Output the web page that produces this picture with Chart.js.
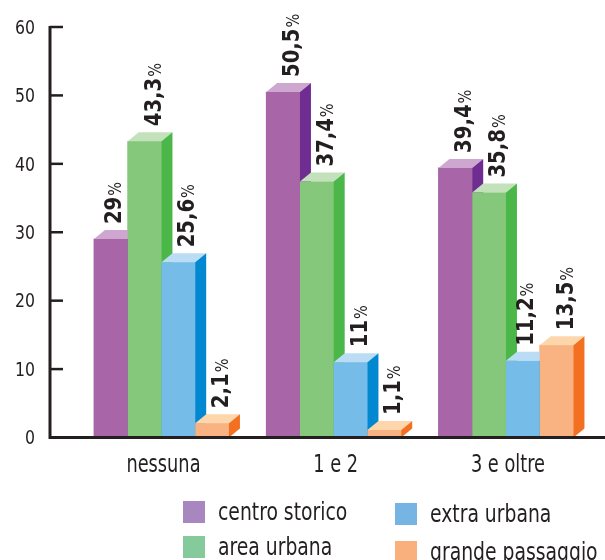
<!DOCTYPE html>
<html lang="it">
<head>
<meta charset="utf-8">
<title>Grafico</title>
<script src="https://cdn.jsdelivr.net/npm/chart.js@4/dist/chart.umd.min.js"></script>
<style>
  html, body { margin: 0; padding: 0; background: #fff; }
  canvas { display: block; }
</style>
</head>
<body>
<canvas id="grafico" width="605" height="560"></canvas>
<script>
// === DATI ===
const categorie = ['nessuna', '1 e 2', '3 e oltre'];
const serie = ['centro storico', 'area urbana', 'extra urbana', 'grande passaggio'];
const centroStorico = [29, 50.5, 39.4];
const areaUrbana = [43.3, 37.4, 35.8];
const extraUrbana = [25.6, 11, 11.2];
const grandePassaggio = [2.1, 1.1, 13.5];
const tickY = [0, 10, 20, 30, 40, 50, 60];

// === STILE ===
const FONT = "'Liberation Sans Narrow', 'DejaVu Sans Condensed', sans-serif";
const NERO = '#231f20';
const coloriFronte = ['#a866a8', '#85c87c', '#75bce8', '#f9b282'];
const coloriSopra = ['#cda7d0', '#c3e2bc', '#badcf4', '#fdd6ab'];
const coloriLato = ['#6f2c91', '#4bb748', '#0288d1', '#f37021'];
const coloriLegenda = ['#a887c0', '#84ca9b', '#76b4e4', '#f9b07d'];
const DX = 11, DY = 9; // profondita' del finto 3D

const valori = [centroStorico, areaUrbana, extraUrbana, grandePassaggio];

function poligono(ctx, punti, colore) {
  ctx.beginPath();
  ctx.moveTo(punti[0][0], punti[0][1]);
  punti.slice(1).forEach(p => ctx.lineTo(p[0], p[1]));
  ctx.closePath();
  ctx.fillStyle = colore;
  ctx.fill();
}

// testo "stretto": il font condensato disponibile e' piu' largo dell'originale
function scrivi(ctx, str, x, y, font, sx, align, baseline) {
  ctx.save();
  ctx.translate(x, y);
  ctx.scale(sx, 1);
  ctx.font = font;
  ctx.fillStyle = NERO;
  ctx.textAlign = align;
  ctx.textBaseline = baseline;
  ctx.fillText(str, 0, 0);
  ctx.restore();
}

// === PLUGIN: barre 3D, etichette ruotate, assi e legenda ===
const barre3d = {
  id: 'barre3d',
  afterDatasetsDraw(chart) {
    const ctx = chart.ctx;
    const area = chart.chartArea;
    const sy = chart.scales.y;
    const sx = chart.scales.x;
    ctx.save();

    // barre disegnate nell'ordine giusto (fronte, sopra, lato)
    categorie.forEach((c, j) => {
      valori.forEach((v, i) => {
        const el = chart.getDatasetMeta(i).data[j];
        const { x, y, base, width } = el.getProps(['x', 'y', 'base', 'width'], true);
        const l = x - width / 2, r = x + width / 2;
        ctx.fillStyle = coloriFronte[i];
        ctx.fillRect(l, y, width, base - y);
        poligono(ctx, [[l, y], [l + DX, y - DY], [r + DX, y - DY], [r, y]], coloriSopra[i]);
        poligono(ctx, [[r, y], [r + DX, y - DY], [r + DX, base - DY], [r, base]], coloriLato[i]);
      });
    });

    // etichette verticali con la percentuale
    categorie.forEach((c, j) => {
      valori.forEach((v, i) => {
        const el = chart.getDatasetMeta(i).data[j];
        const { x, y } = el.getProps(['x', 'y'], true);
        const prossimo = valori[i + 1] ? valori[i + 1][j] : -1;
        const sposta = prossimo > v[j] ? 10 : 16; // se la barra dopo e' piu' alta resta centrata
        const testo = String(v[j]).replace('.', ',');
        ctx.save();
        ctx.translate(x + sposta, y - DY - 6);
        ctx.rotate(-Math.PI / 2);
        ctx.scale(0.95, 1);
        ctx.fillStyle = NERO;
        ctx.textAlign = 'left';
        ctx.textBaseline = 'alphabetic';
        ctx.font = "bold 23px " + FONT;
        ctx.fillText(testo, 0, 0);
        const w = ctx.measureText(testo).width;
        ctx.font = "17px " + FONT;
        ctx.fillText('%', w + 1, 0);
        ctx.restore();
      });
    });

    // assi disegnati sopra le barre
    const y0 = sy.getPixelForValue(0);
    const yTop = sy.getPixelForValue(tickY[tickY.length - 1]);
    ctx.strokeStyle = NERO;
    ctx.lineWidth = 3;
    ctx.beginPath();
    ctx.moveTo(area.left - 1.5, y0);
    ctx.lineTo(area.right, y0);
    ctx.moveTo(area.left, yTop - 1);
    ctx.lineTo(area.left, y0);
    ctx.stroke();
    ctx.lineWidth = 2.5;
    tickY.forEach(t => {
      const yy = sy.getPixelForValue(t);
      ctx.beginPath();
      ctx.moveTo(area.left, yy);
      ctx.lineTo(area.left + 13, yy);
      ctx.stroke();
      scrivi(ctx, String(t), area.left - 15, yy + 6.7, "19px " + FONT, 0.92, 'right', 'alphabetic');
    });

    // etichette delle categorie
    categorie.forEach((c, j) => {
      scrivi(ctx, c, sx.getPixelForValue(j) + 2, y0 + 34, "25px " + FONT, 0.79, 'center', 'alphabetic');
    });

    // legenda su due colonne
    const legX = [183, 395];
    const legY = [[501, 536], [503, 541]];
    serie.forEach((nome, i) => {
      const col = Math.floor(i / 2), riga = i % 2;
      const bx = legX[col], by = legY[col][riga];
      ctx.fillStyle = coloriLegenda[i];
      ctx.fillRect(bx, by, 22, 22);
      scrivi(ctx, nome, bx + 35, by + 19, "24px " + FONT, 0.87, 'left', 'alphabetic');
    });

    ctx.restore();
  }
};

// === GRAFICO ===
new Chart(document.getElementById('grafico'), {
  type: 'bar',
  data: {
    datasets: valori.map((v, i) => ({
      label: serie[i],
      data: v.map((val, j) => ({ x: j, y: val })),
      backgroundColor: coloriFronte[i],
      barThickness: 33.75
    }))
  },
  options: {
    responsive: false,
    devicePixelRatio: 1,
    animation: false,
    layout: { padding: { top: 27, left: 0, right: 0, bottom: 0 } },
    plugins: {
      legend: { display: false },
      tooltip: { enabled: false }
    },
    scales: {
      x: {
        type: 'linear',
        min: -0.647,
        max: 2.575,
        offset: false,
        grid: { display: false, drawTicks: false },
        border: { display: false },
        ticks: { display: false, stepSize: 1, includeBounds: false },
        afterFit: s => { s.height = 122.5; }
      },
      y: {
        min: 0,
        max: 60,
        grid: { display: false, drawTicks: false },
        border: { display: false },
        ticks: { display: false, stepSize: 10 },
        afterFit: s => { s.width = 50; }
      }
    }
  },
  plugins: [barre3d]
});
</script>
</body>
</html>
